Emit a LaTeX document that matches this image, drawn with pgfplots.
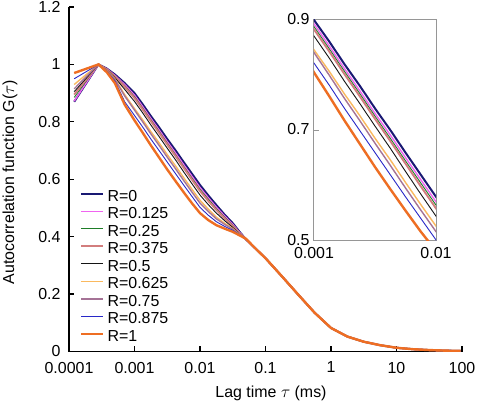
\documentclass[border=0pt]{standalone}
\usepackage{fontspec}
\setmainfont{Liberation Sans}
\usepackage{pgfplots}
\usepackage{pgfplotstable}
\pgfplotsset{compat=1.18}
\definecolor{cRa}{RGB}{25,25,115}
\definecolor{cRb}{RGB}{240,100,240}
\definecolor{cRc}{RGB}{30,125,40}
\definecolor{cRd}{RGB}{210,125,125}
\definecolor{cRe}{RGB}{20,20,20}
\definecolor{cRf}{RGB}{250,185,95}
\definecolor{cRg}{RGB}{165,115,150}
\definecolor{cRh}{RGB}{40,40,200}
\definecolor{cRi}{RGB}{238,110,35}
\definecolor{boxgray}{RGB}{150,150,150}

\pgfplotstableread{
x        ra     rb     rc     rd     re     rf     rg     rh     ri
1.2e-4   0.870  0.872  0.885  0.895  0.905  0.930  0.915  0.950  0.970
2.82e-4  1.000  1.000  1.000  1.000  1.000  1.000  1.000  1.000  1.000
3.8e-4   0.985  0.984  0.983  0.982  0.980  0.978  0.977  0.975  0.972
5.01e-4  0.965  0.962  0.960  0.958  0.954  0.950  0.948  0.943  0.935
7.08e-4  0.935  0.930  0.926  0.922  0.913  0.895  0.890  0.870  0.860
1.0e-3   0.900  0.893  0.888  0.883  0.871  0.846  0.841  0.822  0.805
1.334e-3 0.861  0.853  0.848  0.843  0.831  0.807  0.800  0.782  0.762
1.778e-3 0.820  0.812  0.807  0.802  0.789  0.766  0.758  0.740  0.718
2.371e-3 0.781  0.772  0.767  0.762  0.749  0.727  0.718  0.700  0.676
3.162e-3 0.740  0.731  0.726  0.721  0.708  0.686  0.677  0.660  0.634
4.217e-3 0.701  0.692  0.686  0.681  0.668  0.647  0.637  0.620  0.594
5.623e-3 0.660  0.651  0.645  0.640  0.626  0.606  0.596  0.580  0.555
7.499e-3 0.620  0.611  0.605  0.599  0.585  0.566  0.556  0.541  0.517
1.0e-2   0.580  0.571  0.565  0.559  0.545  0.527  0.517  0.502  0.482
1.334e-2 0.544  0.536  0.531  0.525  0.512  0.496  0.488  0.475  0.458
1.778e-2 0.510  0.503  0.498  0.493  0.482  0.468  0.462  0.452  0.440
2.371e-2 0.477  0.472  0.468  0.464  0.456  0.447  0.443  0.436  0.428
3.162e-2 0.447  0.443  0.440  0.437  0.432  0.428  0.426  0.422  0.417
3.981e-2 0.418  0.416  0.414  0.413  0.411  0.409  0.408  0.407  0.405
5.012e-2 0.391  0.391  0.391  0.391  0.391  0.392  0.392  0.392  0.393
7.079e-2 0.358  0.358  0.358  0.358  0.358  0.358  0.358  0.358  0.358
0.1      0.325  0.325  0.325  0.325  0.325  0.325  0.325  0.325  0.325
0.1778   0.262  0.262  0.262  0.262  0.262  0.262  0.262  0.262  0.262
0.3162   0.198  0.198  0.198  0.198  0.198  0.198  0.198  0.198  0.198
0.5623   0.135  0.135  0.135  0.135  0.135  0.135  0.135  0.135  0.135
1.0      0.082  0.082  0.082  0.082  0.082  0.082  0.082  0.082  0.082
1.778    0.052  0.052  0.052  0.052  0.052  0.052  0.052  0.052  0.052
3.162    0.034  0.034  0.034  0.034  0.034  0.034  0.034  0.034  0.034
5.623    0.022  0.022  0.022  0.022  0.022  0.022  0.022  0.022  0.022
10.0     0.013  0.013  0.013  0.013  0.013  0.013  0.013  0.013  0.013
17.78    0.008  0.008  0.008  0.008  0.008  0.008  0.008  0.008  0.008
31.62    0.005  0.005  0.005  0.005  0.005  0.005  0.005  0.005  0.005
56.23    0.003  0.003  0.003  0.003  0.003  0.003  0.003  0.003  0.003
95.0     0.002  0.002  0.002  0.002  0.002  0.002  0.002  0.002  0.002
}\fcsdata

\pgfplotsset{
  sA/.style={color=cRa, line width=2bp},
  sB/.style={color=cRb, line width=1.4bp},
  sC/.style={color=cRc, line width=0.9bp},
  sD/.style={color=cRd, line width=1.9bp},
  sE/.style={color=cRe, line width=0.9bp},
  sF/.style={color=cRf, line width=1.4bp},
  sG/.style={color=cRg, line width=1.4bp},
  sH/.style={color=cRh, line width=0.9bp},
  sI/.style={color=cRi, line width=2.4bp},
}

\begin{document}
\begin{tikzpicture}
\path[use as bounding box] (0,0) rectangle (478bp,406bp);
\begin{axis}[
  at={(69bp,54.5bp)}, anchor=south west,
  scale only axis, width=393bp, height=344.5bp,
  xmode=log, xmin=1e-4, xmax=100, ymin=0, ymax=1.2,
  axis lines=left,
  axis line style={-, line width=1.3bp, black},
  tick style={black, line width=1.3bp},
  major tick length=5bp,
  tick align=inside,
  xminorticks=false,
  xtick={1e-4,1e-3,1e-2,1e-1,1,10,100},
  xticklabels={0.0001,0.001,0.01,0.1,1,10,100},
  ytick={0,0.2,0.4,0.6,0.8,1,1.2},
  yticklabels={0,0.2,0.4,0.6,0.8,1,1.2},
  tick label style={font=\fontsize{16}{19}\selectfont},
  xticklabel style={yshift=-7bp},
  yticklabel style={xshift=-5bp},
  xlabel={Lag time $\tau$ (ms)},
  ylabel={Autocorrelation function G($\tau$)},
  xlabel style={font=\fontsize{16}{19}\selectfont, at={(axis description cs:0.514,-0.123)}, anchor=center},
  ylabel style={font=\fontsize{16}{19}\selectfont, at={(axis description cs:-0.150,0.492)}, anchor=center, rotate=0},
  legend style={draw=none, fill=none, at={(rel axis cs:0.028,0.472)}, anchor=north west,
    font=\fontsize{16}{19}\selectfont, inner sep=0pt, row sep=0pt,
    nodes={inner sep=0pt, text height=12bp, text depth=5.5bp}},
  legend cell align=left,
  legend image code/.code={\draw[#1] (0bp,4bp) -- (22bp,4bp);},
  /tikz/every odd column/.append style={column sep=3bp},
]
\addplot[sA] table[x=x, y=ra] {\fcsdata}; \addlegendentry{R=0}
\addplot[sB] table[x=x, y=rb] {\fcsdata}; \addlegendentry{R=0.125}
\addplot[sC] table[x=x, y=rc] {\fcsdata}; \addlegendentry{R=0.25}
\addplot[sD] table[x=x, y=rd] {\fcsdata}; \addlegendentry{R=0.375}
\addplot[sE] table[x=x, y=re] {\fcsdata}; \addlegendentry{R=0.5}
\addplot[sF] table[x=x, y=rf] {\fcsdata}; \addlegendentry{R=0.625}
\addplot[sG] table[x=x, y=rg] {\fcsdata}; \addlegendentry{R=0.75}
\addplot[sH] table[x=x, y=rh] {\fcsdata}; \addlegendentry{R=0.875}
\addplot[sI] table[x=x, y=ri] {\fcsdata}; \addlegendentry{R=1}
\end{axis}

\begin{axis}[
  at={(314bp,165bp)}, anchor=south west,
  scale only axis, width=122bp, height=221bp,
  xmode=log, xmin=1e-3, xmax=1e-2, ymin=0.5, ymax=0.9,
  axis background/.style={fill=white},
  axis line style={boxgray, line width=1bp},
  tick style={boxgray, line width=1bp},
  major tick length=5bp,
  tick align=inside,
  xtick pos=left, ytick pos=left,
  xminorticks=false,
  xtick={1e-3,1e-2}, xticklabels={0.001,0.01},
  ytick={0.5,0.7,0.9}, yticklabels={0.5,0.7,0.9},
  tick label style={font=\fontsize{16}{19}\selectfont},
  xticklabel style={yshift=-3bp},
  yticklabel style={xshift=-1bp},
  yticklabel style={yshift=1bp},
]
\addplot[sA] table[x=x, y=ra] {\fcsdata};
\addplot[sB] table[x=x, y=rb] {\fcsdata};
\addplot[sC] table[x=x, y=rc] {\fcsdata};
\addplot[sD] table[x=x, y=rd] {\fcsdata};
\addplot[sE] table[x=x, y=re] {\fcsdata};
\addplot[sF] table[x=x, y=rf] {\fcsdata};
\addplot[sG] table[x=x, y=rg] {\fcsdata};
\addplot[sH] table[x=x, y=rh] {\fcsdata};
\addplot[sI] table[x=x, y=ri] {\fcsdata};
\end{axis}
\end{tikzpicture}
\end{document}
